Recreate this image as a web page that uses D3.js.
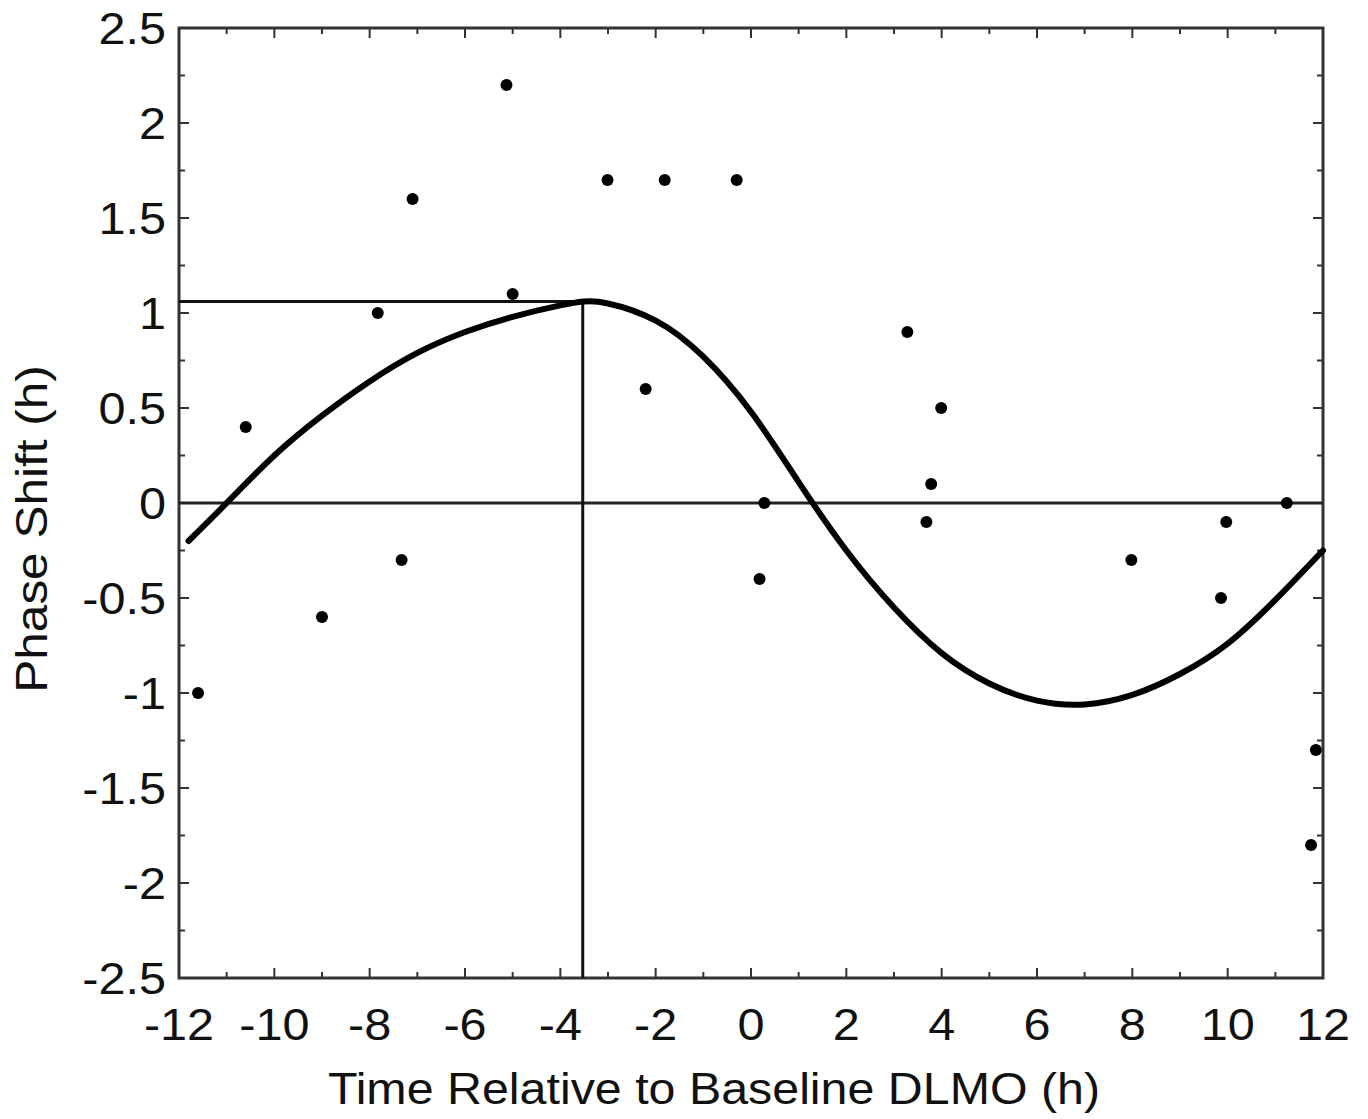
<!DOCTYPE html>
<html lang="en">
<head>
<meta charset="UTF-8">
<title>Phase Response Curve</title>
<script src="https://d3js.org/d3.v7.min.js"></script>
<style>
    body { margin: 0; background: #fff; }
    svg { font-family: "Liberation Sans", Arial, Helvetica, sans-serif; }
    .tick-label { font-size: 45px; fill: #111; }
    .axis-title { font-size: 45px; fill: #111; }
</style>
</head>
<body>
<div id="chart"></div>
<script>
// observed phase shifts: time relative to DLMO (h), phase shift (h)
var obsTime  = [-11.6, -10.6, -9.0, -7.83, -7.33, -7.1, -5.13, -5.0, -3.01, -2.21, -1.81, -0.3,
                0.28, 0.18, 3.28, 3.99, 3.78, 3.68, 7.98, 9.97, 9.86, 11.24, 11.85, 11.75];
var obsShift = [-1.0, 0.4, -0.6, 1.0, -0.3, 1.6, 2.2, 1.1, 1.7, 0.6, 1.7, 1.7,
                0.0, -0.4, 0.9, 0.5, 0.1, -0.1, -0.3, -0.1, -0.5, 0.0, -1.3, -1.8];

// fitted curve
var fitTime  = [-11.8, -11, -10, -9, -8, -7, -6, -5, -4, -3.5, -3, -2, -1, 0, 1, 2, 3, 4, 5, 6, 7, 8, 9, 10, 11, 12];
var fitShift = [-0.20, 0.00, 0.25, 0.46, 0.64, 0.79, 0.90, 0.98, 1.04, 1.06, 1.05, 0.96, 0.77, 0.48, 0.11,
                -0.25, -0.55, -0.79, -0.95, -1.04, -1.06, -1.01, -0.90, -0.74, -0.51, -0.25];

// peak of the fit
var peakTime = -3.53, peakShift = 1.06;

var xTicks = [-12, -10, -8, -6, -4, -2, 0, 2, 4, 6, 8, 10, 12];
var yTicks = [-2.5, -2, -1.5, -1, -0.5, 0, 0.5, 1, 1.5, 2, 2.5];

var width = 1368, height = 1119;
var margin = {left: 179, right: 45, top: 28, bottom: 141};

var svg = d3.select("#chart").append("svg")
    .attr("width", width)
    .attr("height", height);

var x = d3.scaleLinear().domain([-12, 12]).range([margin.left, width - margin.right]);
var y = d3.scaleLinear().domain([-2.5, 2.5]).range([height - margin.bottom, margin.top]);

var x0 = x(-12), x1 = x(12), y0 = y(-2.5), y1 = y(2.5);

// inward ticks on all four sides
var g = svg.append("g").attr("stroke", "#333").attr("stroke-width", 2);
d3.range(-12, 12.01, 1).forEach(function(t) {
    var len = (t % 2 === 0) ? 10 : 6;
    g.append("line").attr("x1", x(t)).attr("x2", x(t)).attr("y1", y0).attr("y2", y0 - len);
    g.append("line").attr("x1", x(t)).attr("x2", x(t)).attr("y1", y1).attr("y2", y1 + len);
});
d3.range(-2.5, 2.51, 0.25).forEach(function(v) {
    var len = (Math.abs(v * 2 - Math.round(v * 2)) < 1e-6) ? 10 : 6;
    g.append("line").attr("y1", y(v)).attr("y2", y(v)).attr("x1", x0).attr("x2", x0 + len);
    g.append("line").attr("y1", y(v)).attr("y2", y(v)).attr("x1", x1).attr("x2", x1 - len);
});

// frame
svg.append("rect")
    .attr("x", x0).attr("y", y1)
    .attr("width", x1 - x0).attr("height", y0 - y1)
    .attr("fill", "none")
    .attr("stroke", "#333")
    .attr("stroke-width", 3);

// tick labels (the original type is a little wide, hence the x stretch)
svg.selectAll(".xl").data(xTicks).enter().append("text")
    .attr("class", "tick-label")
    .attr("transform", function(d) { return "translate(" + x(d) + ",1040) scale(1.08,1)"; })
    .attr("text-anchor", "middle")
    .text(function(d) { return d; });

svg.selectAll(".yl").data(yTicks).enter().append("text")
    .attr("class", "tick-label")
    .attr("transform", function(d) { return "translate(166," + (y(d) + 16) + ") scale(1.08,1)"; })
    .attr("text-anchor", "end")
    .text(function(d) { return d; });

// axis titles
svg.append("text")
    .attr("class", "axis-title")
    .attr("transform", "translate(714,1104) scale(1.075,1)")
    .attr("text-anchor", "middle")
    .text("Time Relative to Baseline DLMO (h)");

svg.append("text")
    .attr("class", "axis-title")
    .attr("transform", "translate(47,529) rotate(-90) scale(1.1,1)")
    .attr("text-anchor", "middle")
    .text("Phase Shift (h)");

// reference lines
svg.append("line")
    .attr("x1", x0).attr("x2", x1)
    .attr("y1", y(0)).attr("y2", y(0))
    .attr("stroke", "#222").attr("stroke-width", 3);

svg.append("line")
    .attr("x1", x0).attr("x2", x(peakTime))
    .attr("y1", y(peakShift)).attr("y2", y(peakShift))
    .attr("stroke", "#111").attr("stroke-width", 3);

svg.append("line")
    .attr("x1", x(peakTime)).attr("x2", x(peakTime))
    .attr("y1", y0).attr("y2", y(peakShift))
    .attr("stroke", "#111").attr("stroke-width", 3);

// fitted curve
var fit = fitTime.map(function(t, i) { return [t, fitShift[i]]; });
svg.append("path")
    .datum(fit)
    .attr("fill", "none")
    .attr("stroke", "#000")
    .attr("stroke-width", 6)
    .attr("stroke-linecap", "round")
    .attr("d", d3.line()
        .x(function(d) { return x(d[0]); })
        .y(function(d) { return y(d[1]); })
        .curve(d3.curveNatural));

// observations
svg.selectAll(".dot").data(obsTime).enter().append("circle")
    .attr("cx", function(d) { return x(d); })
    .attr("cy", function(d, i) { return y(obsShift[i]); })
    .attr("r", 6)
    .attr("fill", "#000");
</script>
</body>
</html>
